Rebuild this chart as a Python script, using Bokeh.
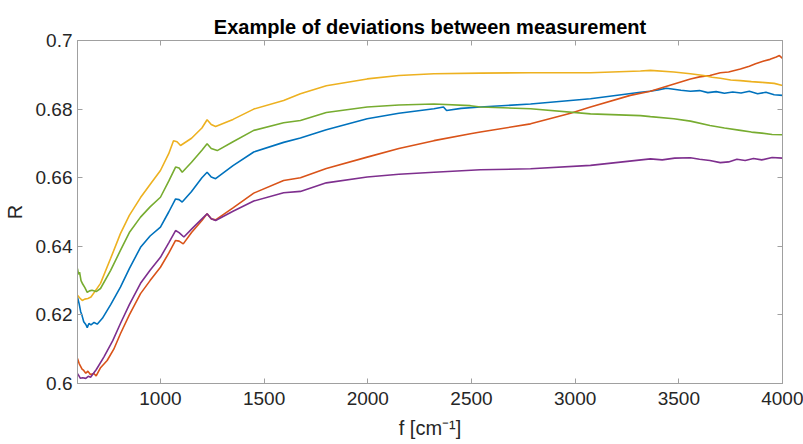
from bokeh.plotting import figure
from bokeh.models import Range1d, FixedTicker, CustomJSTickFormatter, LinearAxis
from bokeh.embed import file_html
from bokeh.resources import INLINE

# ---------------- data ----------------
title_text = "Example of deviations between measurement"
x_label = "f [cm\u207b\u00b9]"
y_label = "R"
x_ticks = [1000, 1500, 2000, 2500, 3000, 3500, 4000]
y_ticks = [0.6, 0.62, 0.64, 0.66, 0.68, 0.7]

blue_x = [600, 608, 615, 622, 630, 640, 647, 655, 665, 680, 695, 720, 760, 807, 850, 904, 950,
          1000, 1040, 1073, 1090, 1105, 1150, 1200, 1225, 1245, 1266, 1350, 1450, 1594, 1675,
          1800, 1997, 2150, 2319, 2365, 2380, 2450, 2543, 2785, 3074, 3315, 3360, 3400, 3440,
          3476, 3510, 3556, 3600, 3640, 3680, 3720, 3760, 3800, 3840, 3880, 3920, 3960, 4000]
blue_y = [0.6252, 0.6232, 0.6210, 0.6198, 0.6180, 0.6172, 0.6163, 0.6175, 0.6171, 0.6178, 0.6173,
          0.6190, 0.6230, 0.6281, 0.6335, 0.6397, 0.6430, 0.6456, 0.6500, 0.6538, 0.6536, 0.6529,
          0.6560, 0.6600, 0.6616, 0.6602, 0.6597, 0.6635, 0.6675, 0.6703, 0.6716, 0.6740, 0.6772,
          0.6788, 0.6801, 0.6806, 0.6796, 0.6802, 0.6806, 0.6815, 0.6830, 0.6849, 0.6852, 0.6856,
          0.6861, 0.6858, 0.6855, 0.6852, 0.6854, 0.6848, 0.6851, 0.6846, 0.6850, 0.6847, 0.6852,
          0.6845, 0.6849, 0.6842, 0.6840]

orange_x = [600, 608, 615, 622, 630, 640, 650, 662, 679, 690, 710, 743, 775, 807, 850, 904, 950,
            1000, 1040, 1073, 1090, 1110, 1150, 1200, 1225, 1245, 1266, 1350, 1450, 1594, 1675,
            1800, 1997, 2150, 2319, 2495, 2543, 2785, 2978, 3074, 3266, 3363, 3556, 3600, 3650,
            3700, 3740, 3797, 3840, 3870, 3910, 3940, 3970, 3985, 4000]
orange_y = [0.6073, 0.6058, 0.6050, 0.6042, 0.6038, 0.6030, 0.6036, 0.6026, 0.6029, 0.6022, 0.6045,
            0.6067, 0.6100, 0.6145, 0.6200, 0.6262, 0.6300, 0.6339, 0.6380, 0.6417, 0.6415, 0.6407,
            0.6440, 0.6475, 0.6495, 0.6480, 0.6477, 0.6512, 0.6555, 0.6592, 0.6600, 0.6627, 0.6660,
            0.6685, 0.6708, 0.6728, 0.6733, 0.6757, 0.6788, 0.6806, 0.6840, 0.6852, 0.6888, 0.6894,
            0.6898, 0.6906, 0.6908, 0.6917, 0.6925, 0.6932, 0.6940, 0.6945, 0.6952, 0.6956, 0.6948]

yellow_x = [600, 610, 623, 635, 650, 665, 680, 711, 760, 807, 850, 904, 950, 1000, 1040, 1063,
            1080, 1097, 1150, 1200, 1225, 1245, 1266, 1350, 1450, 1594, 1675, 1800, 1997, 2150,
            2319, 2543, 2785, 3074, 3315, 3363, 3476, 3556, 3620, 3660, 3700, 3750, 3797, 3850,
            3900, 3960, 4000]
yellow_y = [0.6257, 0.6250, 0.6242, 0.6246, 0.6248, 0.6252, 0.6265, 0.6292, 0.6365, 0.6437, 0.6490,
            0.6542, 0.6580, 0.6621, 0.6670, 0.6708, 0.6705, 0.6694, 0.6715, 0.6745, 0.6769, 0.6755,
            0.6749, 0.6770, 0.6800, 0.6825, 0.6845, 0.6868, 0.6888, 0.6898, 0.6903, 0.6905, 0.6906,
            0.6906, 0.6911, 0.6913, 0.6908, 0.6903, 0.6898, 0.6893, 0.6890, 0.6885, 0.6883, 0.6880,
            0.6878, 0.6875, 0.6869]

purple_x = [600, 607, 614, 625, 640, 652, 663, 690, 727, 770, 807, 850, 904, 950, 1000, 1040,
            1073, 1090, 1113, 1150, 1200, 1225, 1245, 1266, 1350, 1450, 1594, 1675, 1800, 1997,
            2150, 2319, 2543, 2785, 3074, 3363, 3420, 3480, 3556, 3600, 3650, 3700, 3740, 3780,
            3820, 3860, 3900, 3950, 4000]
purple_y = [0.6029, 0.6022, 0.6015, 0.6017, 0.6015, 0.6021, 0.6018, 0.6040, 0.6077, 0.6125, 0.6175,
            0.6230, 0.6292, 0.6330, 0.6368, 0.6410, 0.6446, 0.6440, 0.6427, 0.6450, 0.6480, 0.6495,
            0.6480, 0.6475, 0.6502, 0.6532, 0.6556, 0.6560, 0.6585, 0.6602, 0.6610, 0.6616, 0.6623,
            0.6626, 0.6636, 0.6655, 0.6652, 0.6657, 0.6658, 0.6654, 0.6650, 0.6644, 0.6646, 0.6654,
            0.6650, 0.6656, 0.6652, 0.6659, 0.6657]

green_x = [600, 605, 610, 617, 625, 635, 647, 658, 670, 690, 711, 760, 807, 850, 904, 950, 1000,
           1040, 1073, 1090, 1105, 1150, 1200, 1225, 1245, 1274, 1350, 1450, 1594, 1675, 1800,
           1997, 2150, 2319, 2495, 2543, 2785, 3074, 3315, 3363, 3476, 3556, 3650, 3720, 3797,
           3850, 3900, 3950, 4000]
green_y = [0.6335, 0.6318, 0.6325, 0.6300, 0.6290, 0.6280, 0.6266, 0.6270, 0.6272, 0.6268, 0.6277,
           0.6330, 0.6388, 0.6440, 0.6485, 0.6515, 0.6543, 0.6590, 0.6631, 0.6628, 0.6616, 0.6645,
           0.6680, 0.6699, 0.6685, 0.6679, 0.6705, 0.6738, 0.6760, 0.6767, 0.6790, 0.6806, 0.6812,
           0.6815, 0.6810, 0.6806, 0.6801, 0.6786, 0.6781, 0.6778, 0.6772, 0.6765, 0.6752, 0.6745,
           0.6738, 0.6733, 0.6730, 0.6726, 0.6725]

series = [
    (blue_x, blue_y, "#0072BD"),
    (orange_x, orange_y, "#D95319"),
    (yellow_x, yellow_y, "#EDB120"),
    (purple_x, purple_y, "#7E2F8E"),
    (green_x, green_y, "#77AC30"),
]

# ---------------- figure ----------------
FONT = "Liberation Sans"
AXIS_COLOR = "#a0a0a0"
TEXT_COLOR = "#262626"

p = figure(width=803, height=444, x_range=Range1d(600, 4000), y_range=Range1d(0.6, 0.7),
           output_backend="svg", toolbar_location=None,
           min_border_left=77, min_border_right=21, min_border_top=40, min_border_bottom=61)

p.title.text = title_text
p.title.align = "center"
p.title.text_font = FONT
p.title.text_font_size = "20px"
p.title.text_font_style = "bold"
p.title.text_color = "#000000"
p.title.standoff = 6

p.grid.visible = False
p.background_fill_color = "white"
p.border_fill_color = "white"
p.outline_line_color = AXIS_COLOR
p.outline_line_width = 1

fmt = CustomJSTickFormatter(code="return String(Number(tick.toFixed(3)));")

for ax, ticks in ((p.xaxis[0], x_ticks), (p.yaxis[0], y_ticks)):
    ax.ticker = FixedTicker(ticks=ticks)
    ax.formatter = fmt
    ax.axis_line_color = AXIS_COLOR
    ax.major_tick_line_color = AXIS_COLOR
    ax.major_tick_in = 5
    ax.major_tick_out = 0
    ax.minor_tick_line_color = None
    ax.major_label_text_font = FONT
    ax.major_label_text_font_size = "19px"
    ax.major_label_text_color = TEXT_COLOR
    ax.axis_label_text_font = FONT
    ax.axis_label_text_font_size = "20px"
    ax.axis_label_text_font_style = "normal"
    ax.axis_label_text_color = TEXT_COLOR

p.xaxis[0].axis_label = x_label
p.xaxis[0].major_label_standoff = 8
p.xaxis[0].axis_label_standoff = 9
p.yaxis[0].axis_label = y_label
p.yaxis[0].major_label_standoff = 5
p.yaxis[0].axis_label_standoff = 7

# mirrored ticks on top and right (no labels)
for loc, ticks in (("above", x_ticks), ("right", y_ticks)):
    ax = LinearAxis(ticker=FixedTicker(ticks=ticks))
    ax.axis_line_color = AXIS_COLOR
    ax.major_tick_line_color = AXIS_COLOR
    ax.major_tick_in = 5
    ax.major_tick_out = 0
    ax.minor_tick_line_color = None
    ax.major_label_text_color = None
    ax.major_label_text_font_size = "1px"
    ax.major_label_standoff = 0
    p.add_layout(ax, loc)

for xs, ys, color in series:
    p.line(xs, ys, line_color=color, line_width=1.6)

open("out.html", "w").write(file_html(p, INLINE))
